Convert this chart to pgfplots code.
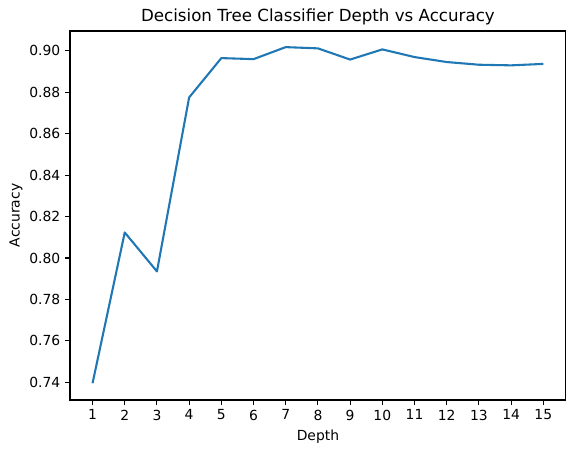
\documentclass[border=0pt]{standalone}
\usepackage{pgfplots}
\pgfplotsset{compat=1.18}
\usepackage{fontspec}
\setmainfont{DejaVu Sans}
\definecolor{mplblue}{HTML}{1F77B4}

\begin{document}
\begin{tikzpicture}
	\path[use as bounding box] (-50.4pt,-38.2pt) rectangle (364.3pt,288pt);
	\begin{axis}[
		at={(0,0)}, anchor=south west,
		scale only axis,
		width=357pt, height=265.7pt,
		xmin=0.3, xmax=15.7,
		ymin=0.7314, ymax=0.9096,
		xtick={1,...,15},
		ytick={0.74,0.76,0.78,0.80,0.82,0.84,0.86,0.88,0.90},
		yticklabel style={/pgf/number format/.cd, fixed, fixed zerofill, precision=2},
		/pgf/number format/assume math mode=true,
		tick align=outside,
		tick pos=left,
		major tick length=3.5pt,
		every tick/.style={black, line width=0.8pt},
		axis line style={line width=0.8pt},
		tick label style={font=\fontsize{10}{12}\selectfont},
		title={Decision Tree Classifier Depth vs Accuracy},
		title style={font=\fontsize{12}{14}\selectfont, yshift=-5pt},
		xlabel={Depth},
		ylabel={Accuracy},
		label style={font=\fontsize{10}{12}\selectfont},
		ylabel style={yshift=-2pt},
	]
	\addplot[color=mplblue, line width=1.5pt, line join=round] coordinates {
		(1,0.7395) (2,0.8123) (3,0.7935) (4,0.8775) (5,0.8965)
		(6,0.8960) (7,0.9018) (8,0.9012) (9,0.8958) (10,0.9007)
		(11,0.8970) (12,0.8946) (13,0.8933) (14,0.8930) (15,0.8937)
	};
	\end{axis}
\end{tikzpicture}
\end{document}
